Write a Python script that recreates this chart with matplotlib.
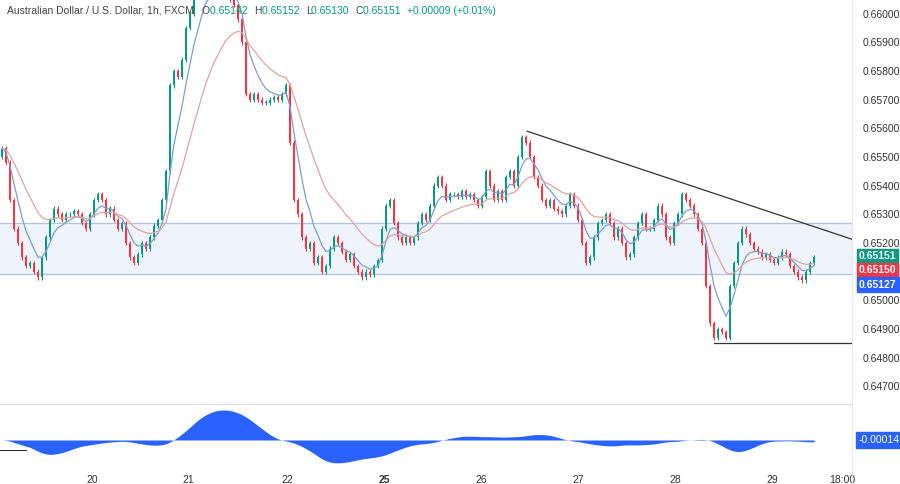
import numpy as np
import pandas as pd
import matplotlib
matplotlib.use("Agg")
import matplotlib.pyplot as plt
plt.rcParams['font.family'] = ['Liberation Sans', 'DejaVu Sans']

closes = [
0.6553,0.6548,0.6535,0.6525,0.6520,0.6515,0.6512,0.6513,0.6510,0.6508,
0.6515,0.6522,0.6528,0.6532,0.6530,0.6528,0.6530,0.6530,0.6531,0.6530,
0.6527,0.6525,0.6530,0.6535,0.6537,0.6535,0.6530,0.6532,0.6528,0.6525,
0.6527,0.6520,0.6515,0.6513,0.6516,0.6520,0.6518,0.6522,0.6526,0.6528,
0.6535,0.6545,0.6575,0.6580,0.6578,0.6584,0.6595,0.6600,0.6606,0.6608,
0.6612,0.6615,0.6610,0.6613,0.6608,0.6612,0.6610,0.6605,0.6603,0.6598,
0.6590,0.6572,0.6570,0.6572,0.6570,0.6569,0.6569,0.6570,0.6571,0.6570,
0.6572,0.6575,0.6555,0.6535,0.6530,0.6522,0.6518,0.6520,0.6513,0.6515,
0.6510,0.6512,0.6518,0.6522,0.6520,0.6517,0.6514,0.6516,0.6512,0.6510,
0.6508,0.6510,0.6509,0.6512,0.6514,0.6525,0.6533,0.6535,0.6527,0.6522,
0.6520,0.6522,0.6520,0.6522,0.6527,0.6530,0.6528,0.6533,0.6540,0.6543,
0.6540,0.6535,0.6537,0.6537,0.6536,0.6538,0.6536,0.6537,0.6535,0.6533,
0.6536,0.6545,0.6540,0.6535,0.6538,0.6535,0.6543,0.6545,0.6540,0.6550,
0.6557,0.6555,0.6550,0.6543,0.6540,0.6535,0.6533,0.6535,0.6532,0.6531,
0.6530,0.6533,0.6537,0.6533,0.6528,0.6520,0.6513,0.6515,0.6522,0.6527,
0.6528,0.6530,0.6527,0.6522,0.6525,0.6520,0.6515,0.6516,0.6522,0.6527,
0.6530,0.6525,0.6525,0.6528,0.6533,0.6530,0.6522,0.6520,0.6527,0.6530,
0.6537,0.6535,0.6533,0.6530,0.6525,0.6520,0.6505,0.6492,0.6487,0.6490,
0.6489,0.6487,0.6505,0.6513,0.6520,0.6525,0.6523,0.6520,0.6518,0.6517,
0.6515,0.6516,0.6514,0.6513,0.6515,0.6517,0.6516,0.6512,0.6510,0.6508,
0.6507,0.6510,0.6513,0.6515]
first_open = 0.6550
day_labels = ["20", "21", "22", "25", "26", "27", "28", "29", "18:00"]
day_pos = [22.5, 46.5, 71.25, 95.5, 119.75, 144, 168.25, 192.5, 210]
price_ticks = [0.647 + 0.001 * k for k in range(14)]
band = (0.65090, 0.65270)
trend = ((131.3, 0.65590), (212.5, 0.65213))
support = ((178, 212.5), 0.64852)
last_labels = [("0.65151", "#089981"), ("0.65150", "#F23645"), ("0.65127", "#2962FF")]
osc_label = "-0.00014"

GREEN, RED = "#089981", "#F23645"
c = np.array(closes)
o = np.concatenate([[first_open], c[:-1]])
n = len(c)
x = np.arange(n)
s = pd.Series(c)
ema_fast = s.ewm(span=6, adjust=False).mean()
ma_slow = s.ewm(span=18, adjust=False).mean()
osc = (s.ewm(span=8, adjust=False).mean() - s.ewm(span=30, adjust=False).mean()).rolling(8, min_periods=1).mean()

fig = plt.figure(figsize=(9, 4.84), dpi=100)
ax = fig.add_axes([0, 84/484, 852/900, 1-84/484])
ax2 = fig.add_axes([0, 20/484, 852/900, 60/484], sharex=ax)

ax.axhspan(band[0], band[1], color="#EEF3FC", zorder=0)
ax.axhline(band[0], color="#B2C4E4", lw=0.9, zorder=1)
ax.axhline(band[1], color="#B2C4E4", lw=0.9, zorder=1)

for i in range(n):
    col = GREEN if c[i] >= o[i] else RED
    hi = max(o[i], c[i]) + 0.00008
    lo = min(o[i], c[i]) - 0.00008
    ax.vlines(x[i], lo, hi, color=col, lw=0.8, zorder=3)
    h = abs(c[i] - o[i])
    ax.bar(x[i], max(h, 0.00002), bottom=min(o[i], c[i]), width=0.7, color=col, zorder=4, linewidth=0)

ax.plot(x, ema_fast, color="#7E9FC9", lw=0.9, zorder=5)
ax.plot(x, ma_slow, color="#E0A4A4", lw=0.9, zorder=5)
(tx0, ty0), (tx1, ty1) = trend
ax.plot([tx0, tx1], [ty0, ty1], color="#333333", lw=0.9, zorder=6)
ax.plot(list(support[0]), [support[1]] * 2, color="#333333", lw=0.9, zorder=6)

ax.set_xlim(-0.5, 212.5)
ax.set_ylim(0.64652, 0.66048)
ax.yaxis.tick_right()
ax.set_yticks(price_ticks)
ax.set_yticklabels([f"{v:.5f}" for v in price_ticks], fontsize=7.5, color="#333333")
ax.tick_params(axis="y", length=0, pad=8)
ax.tick_params(axis="x", length=0, labelbottom=False)
for sp in ax.spines.values():
    sp.set_visible(False)

ypos = [0.65155, 0.65105, 0.65055]
for (txt, col), yy in zip(last_labels, ypos):
    ax.text(1.008, yy, txt, transform=ax.get_yaxis_transform(), fontsize=7.5, color="white",
            fontweight="bold", va="center", ha="left", zorder=10,
            bbox=dict(boxstyle="square,pad=0.2", fc=col, ec=col))

title = fig.text(7/900, 0.988, "Australian Dollar / U.S. Dollar, 1h, FXCM",
                 fontsize=7.5, color="#444444", va="top", ha="left")
parts = [("O", "#444444"), ("0.65142 ", GREEN), ("H", "#444444"), ("0.65152 ", GREEN),
         ("L", "#444444"), ("0.65130 ", GREEN), ("C", "#444444"), ("0.65151 ", GREEN),
         ("+0.00009 (+0.01%)", GREEN)]
fig.canvas.draw()
r = fig.canvas.get_renderer()
xx = title.get_window_extent(renderer=r).x1 / 900 + 8 / 900
for t, col in parts:
    tt = fig.text(xx, 0.988, t, fontsize=7.5, color=col, va="top", ha="left")
    bb = tt.get_window_extent(renderer=r)
    xx += bb.width / 900 + (0.004 if t.endswith(" ") else 0)

pk = float(osc.max())
ax2.fill_between(x, osc, 0, color="#2962FF", lw=0)
ax2.axhline(-0.32 * pk, xmin=0, xmax=0.03, color="#333333", lw=0.8)
ax2.set_ylim(-0.8 * pk, 1.2 * pk)
ax2.yaxis.tick_right()
ax2.set_yticks([])
for sp in ax2.spines.values():
    sp.set_visible(False)
ax2.set_xticks(day_pos)
ax2.set_xticklabels(day_labels, fontsize=7.5, color="#333333")
ax2.get_xticklabels()[3].set_fontweight("bold")
ax2.tick_params(axis="x", length=0, pad=8)
ax2.text(1.008, 0, osc_label, transform=ax2.get_yaxis_transform(), fontsize=7.5,
         color="white", va="center", ha="left",
         bbox=dict(boxstyle="square,pad=0.25", fc="#2962FF", ec="#2962FF"))
fig.add_artist(plt.Line2D([0, 852/900], [1 - 404/484] * 2, color="#DDDDDD", lw=0.8))
fig.add_artist(plt.Line2D([852/900] * 2, [0, 1], color="#E6E6E6", lw=0.6))

fig.savefig("out.png", dpi=100)
